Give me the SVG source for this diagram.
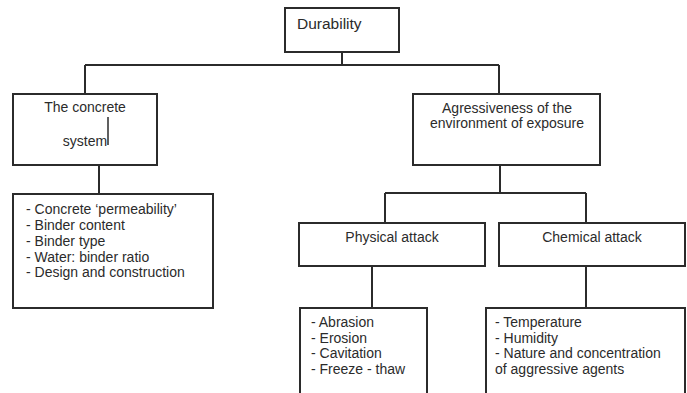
<svg xmlns="http://www.w3.org/2000/svg" width="687" height="393" viewBox="0 0 687 393">
<style>
.box{fill:#fff;stroke:#2b2b2b;stroke-width:2}
.t{font-family:"Liberation Sans",Arial,sans-serif;font-size:14px;fill:#2b2b2b}
.c{text-anchor:middle}
.ln{fill:none;stroke:#2b2b2b;stroke-width:2}
</style>
<rect width="687" height="393" fill="#fff"/>
<g id="connectors">
<path class="ln" d="M342 52V65M85 65H499M85 65V94M499 65V94"/>
<path class="ln" d="M99 165V194"/>
<path class="ln" d="M500 165V193M385 193H586M385 193V223M586 193V223"/>
<path class="ln" d="M372 266V308M586 266V308"/>
</g>
<g id="durability">
<rect class="box" x="285" y="8" width="114" height="44"/>
<text class="t" x="297" y="29" style="font-size:15.5px">Durability</text>
</g>
<g id="concrete-system">
<rect class="box" x="13" y="94" width="144" height="71"/>
<text class="t c" x="85" y="112">The concrete</text>
<text class="t c" x="85" y="146">system</text>
<path class="ln" d="M108 117V145" style="stroke-width:1.5"/>
</g>
<g id="concrete-factors">
<rect class="box" x="13" y="194" width="200" height="114"/>
<text class="t" x="26" y="214">- Concrete ‘permeability’</text>
<text class="t" x="26" y="230">- Binder content</text>
<text class="t" x="26" y="246">- Binder type</text>
<text class="t" x="26" y="262">- Water: binder ratio</text>
<text class="t" x="26" y="277">- Design and construction</text>
</g>
<g id="aggressiveness">
<rect class="box" x="413" y="94" width="187" height="71"/>
<text class="t c" x="507" y="113">Agressiveness of the</text>
<text class="t c" x="507" y="128">environment of exposure</text>
</g>
<g id="physical">
<rect class="box" x="299" y="223" width="186" height="43"/>
<text class="t c" x="392" y="242">Physical attack</text>
</g>
<g id="chemical">
<rect class="box" x="499" y="223" width="186" height="43"/>
<text class="t c" x="592" y="242">Chemical attack</text>
</g>
<g id="physical-factors">
<rect class="box" x="300" y="308" width="127" height="100"/>
<text class="t" x="311" y="327">- Abrasion</text>
<text class="t" x="311" y="343">- Erosion</text>
<text class="t" x="311" y="358">- Cavitation</text>
<text class="t" x="311" y="374">- Freeze - thaw</text>
</g>
<g id="chemical-factors">
<rect class="box" x="486" y="308" width="199" height="100"/>
<text class="t" x="495" y="327">- Temperature</text>
<text class="t" x="495" y="343">- Humidity</text>
<text class="t" x="495" y="358">- Nature and concentration</text>
<text class="t" x="495" y="374">of aggressive agents</text>
</g>
</svg>
